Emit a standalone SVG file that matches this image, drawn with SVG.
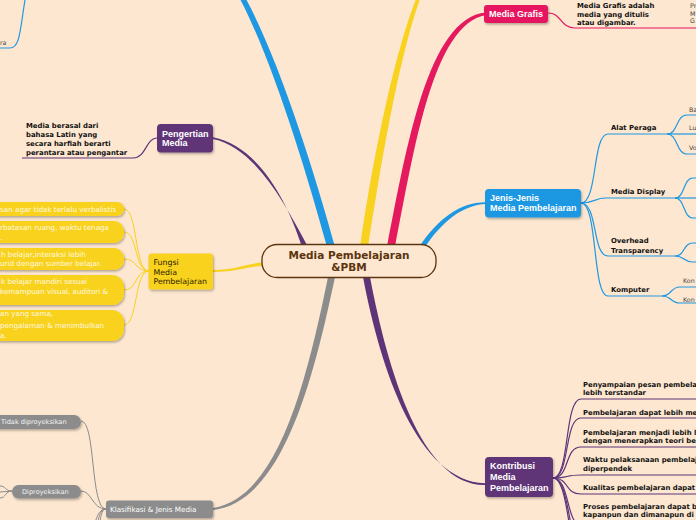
<svg xmlns="http://www.w3.org/2000/svg" width="696" height="520" viewBox="0 0 696 520">
<defs>
<filter id="sh" x="-20%" y="-20%" width="140%" height="160%"><feDropShadow dx="1" dy="1.5" stdDeviation="0.8" flood-color="#000" flood-opacity="0.3"/></filter>
<style>
.bg{fill:#FDE7D0}
.t{font-family:"DejaVu Sans",Verdana,sans-serif}
.lb{font-family:"Liberation Sans",Arial,sans-serif;font-weight:bold;font-size:9px;fill:#fff}
.cb{font-family:"DejaVu Sans",Verdana,sans-serif;font-weight:bold;font-size:6.9px;fill:#111}
.gs{font-family:"DejaVu Sans",Verdana,sans-serif;font-size:6.3px;fill:#444}
.yt{font-family:"DejaVu Sans",Verdana,sans-serif;font-size:7.2px;fill:#FFF9E2}
.gt{font-family:"DejaVu Sans",Verdana,sans-serif;font-size:6.6px;fill:#F4F4F4}
.lblue{fill:none;stroke:#1E98E2;stroke-width:1.2}
.lyel{fill:none;stroke:#F8D21E;stroke-width:1}
.lpur{fill:none;stroke:#5E3478;stroke-width:1.2}
.lpink{fill:none;stroke:#E5195E;stroke-width:1.2}
.lgray{fill:none;stroke:#8C8C8C;stroke-width:1}
</style>
</defs>
<rect class="bg" x="0" y="0" width="696" height="520"/>

<g id="connectors">
  <path d="M240,-1 C272,60 306,170 327,247 L335,247 C314,170 279,60 246,-1 Z" fill="#1E98E2"/>
  <path d="M360,247 C371,170 392,60 416,-1 L420,-1 C398,60 380,170 368,247 Z" fill="#F8D21E"/>
  <path d="M387,247 C406,150 428,17 486,12.5 L486,15 C433,24 414,150 395,247 Z" fill="#E5195E"/>
  <path d="M419,247 C438,219 460,202 486,202.3 L486,204 C462,205 442,222 425,247 Z" fill="#1E98E2"/>
  <path d="M302,247 C287,200 258,146 213,137.3 L213,139 C255,148 284,202 308,247 Z" fill="#5E3478"/>
  <path d="M262,262.5 C245,264 235,270 213,270 L213,272 C236,272 246,267 262,266 Z" fill="#F8D21E"/>
  <path d="M328,277 C307,380 278,498 213,508 L213,510 C282,502 313,382 335,277 Z" fill="#8C8C8C"/>
  <path d="M363,277 C381,372 418,481 485,483.3 L485,485 C422,486 388,372 370,277 Z" fill="#5E3478"/>

  <path class="lblue" d="M25,0 C20,30 20,48 10,48 L0,48"/>

  <path class="lpink" d="M548,13 C562,13 560,28 575,28 L696,28"/>

  <path class="lpur" d="M157,138 C146,138 146,158 133,158 L22,158"/>

  <path class="lyel" d="M149,271 C134,271 138,209 124,209"/>
  <path class="lyel" d="M149,271 C134,271 138,232 124,232"/>
  <path class="lyel" d="M149,271 C134,271 138,259 124,259"/>
  <path class="lyel" d="M149,271 C134,271 138,290 124,290"/>
  <path class="lyel" d="M149,271 C134,271 138,325 124,325"/>

  <path class="lblue" d="M581,203 C598,203 592,134 608,134 L667,134"/>
  <path class="lblue" d="M581,203 C595,203 594,198 606,198 L675,198"/>
  <path class="lblue" d="M581,203 C598,203 592,256 608,256 L675,256"/>
  <path class="lblue" d="M581,203 C598,203 592,296 608,296 L662,296"/>
  <path class="lblue" d="M667,134 C678,134 676,115 687,115 L696,115"/>
  <path class="lblue" d="M667,134 L696,134"/>
  <path class="lblue" d="M667,134 C678,134 676,154 687,154 L696,154"/>
  <path class="lblue" d="M675,198 C685,198 683,178 693,178 L696,178"/>
  <path class="lblue" d="M675,198 L696,198"/>
  <path class="lblue" d="M675,198 C685,198 683,218 693,218 L696,218"/>
  <path class="lblue" d="M675,256 C685,256 683,243 693,243 L696,243"/>
  <path class="lblue" d="M675,256 C685,256 683,262 693,262 L696,262"/>
  <path class="lblue" d="M662,296 C672,296 670,287 680,287 L696,287"/>
  <path class="lblue" d="M662,296 C672,296 670,303 680,303 L696,303"/>

  <path class="lpur" d="M553,478 C570,478 564,399 581,399 L696,399"/>
  <path class="lpur" d="M553,478 C570,478 564,418 581,418 L696,418"/>
  <path class="lpur" d="M553,478 C570,478 564,447 581,447 L696,447"/>
  <path class="lpur" d="M553,478 C570,478 564,475 581,475 L696,475"/>
  <path class="lpur" d="M553,478 C570,478 564,494 581,494 L696,494"/>
  <path class="lpur" d="M553,478 C570,478 566,525 581,525 L696,525"/>
  <path class="lpur" d="M553,478 C570,478 568,545 581,545"/>
  <path class="lpur" d="M553,478 C570,478 569,565 581,565"/>

  <path class="lgray" d="M106,509 C90,509 96,421 81,421"/>
  <path class="lgray" d="M106,509 C92,509 92,491 81,491"/>
  <path class="lgray" d="M106,509 C97,509 99,528 92,540"/>
  <path class="lgray" d="M106,509 C95,509 96,528 88,540"/>
  <path class="lgray" d="M106,509 C99,509 101,528 96,540"/>
  <path class="lgray" d="M12,491 C5,491 6,486 0,486"/>
  <path class="lgray" d="M12,491 L0,492"/>
  <path class="lgray" d="M12,491 C5,491 6,498 0,498"/>
</g>

<g id="center">
  <rect x="262" y="244.5" width="174" height="33" rx="15" fill="#FDE7D0" stroke="#5B3410" stroke-width="1.3"/>
  <text x="349" y="259" text-anchor="middle" class="t" font-size="10.5" font-weight="bold" fill="#5B3410">Media Pembelajaran</text>
  <text x="349" y="271" text-anchor="middle" class="t" font-size="10.5" font-weight="bold" fill="#5B3410">&amp;PBM</text>
</g>

<g id="top-left-child">
  <text x="0" y="44.5" class="gs" font-size="5px">ra</text>
</g>

<g id="media-grafis">
  <rect x="484" y="5" width="64" height="18" rx="3" fill="#E5195E" filter="url(#sh)"/>
  <text x="489" y="16.5" class="lb">Media Grafis</text>
</g>
<g id="media-grafis-def">
  <text x="577" y="8" class="cb">Media Grafis adalah</text>
  <text x="577" y="16.5" class="cb">media yang ditulis</text>
  <text x="577" y="25" class="cb">atau digambar.</text>
</g>
<g id="media-grafis-sub">
  <text x="690" y="7.5" class="gs" font-size="5.5px">Pr</text>
  <text x="690" y="15.5" class="gs" font-size="5.5px">M</text>
  <text x="690" y="23" class="gs" font-size="5.5px">G</text>
</g>

<g id="pengertian">
  <rect x="157" y="124" width="56" height="28.5" rx="4" fill="#5E3478" filter="url(#sh)"/>
  <text x="162" y="136.5" class="lb">Pengertian</text>
  <text x="162" y="146" class="lb">Media</text>
</g>
<g id="pengertian-def">
  <text x="26" y="128" class="cb">Media berasal dari</text>
  <text x="26" y="136.5" class="cb">bahasa Latin yang</text>
  <text x="26" y="145.5" class="cb">secara harfiah berarti</text>
  <text x="26" y="154.5" class="cb">perantara atau pengantar</text>
</g>

<g id="fungsi">
  <rect x="148.5" y="253.5" width="64.5" height="36" rx="3" fill="#F8D21E" filter="url(#sh)"/>
  <text x="153.5" y="265" font-family="'DejaVu Sans',Verdana,sans-serif" font-size="7.8" fill="#2A2000">Fungsi</text>
  <text x="153.5" y="274.5" font-family="'DejaVu Sans',Verdana,sans-serif" font-size="7.8" fill="#2A2000">Media</text>
  <text x="153.5" y="284" font-family="'DejaVu Sans',Verdana,sans-serif" font-size="7.8" fill="#2A2000">Pembelajaran</text>
</g>
<g id="fungsi-1">
  <rect x="-20" y="202" width="144" height="14" rx="7" fill="#F8D21E" filter="url(#sh)"/>
  <text x="0" y="211.5" class="yt">san agar tidak terlalu verbalistis</text>
</g>
<g id="fungsi-2">
  <rect x="-20" y="221" width="144" height="22" rx="10" fill="#F8D21E" filter="url(#sh)"/>
  <text x="0" y="230" class="yt">rbatasan ruang, waktu tenaga</text>
  <text x="0" y="239.5" class="yt">.</text>
</g>
<g id="fungsi-3">
  <rect x="-20" y="248" width="144" height="22" rx="10" fill="#F8D21E" filter="url(#sh)"/>
  <text x="1" y="256.5" class="yt">h belajar,interaksi lebih</text>
  <text x="0" y="266" class="yt">urid dengan sumber belajar.</text>
</g>
<g id="fungsi-4">
  <rect x="-20" y="275" width="144" height="30" rx="12" fill="#F8D21E" filter="url(#sh)"/>
  <text x="1" y="284" class="yt">k belajar mandiri sesuai</text>
  <text x="0" y="293.5" class="yt"> kemampuan visual, auditori &amp;</text>
</g>
<g id="fungsi-5">
  <rect x="-20" y="310" width="144" height="31" rx="12" fill="#F8D21E" filter="url(#sh)"/>
  <text x="0" y="316" class="yt">an yang sama,</text>
  <text x="0" y="328" class="yt">pengalaman &amp; menimbulkan</text>
  <text x="0" y="337.5" class="yt">a.</text>
</g>

<g id="jenis">
  <rect x="485" y="189" width="96" height="28.5" rx="4" fill="#1E98E2" filter="url(#sh)"/>
  <text x="490" y="200.5" class="lb">Jenis-Jenis</text>
  <text x="490" y="210.5" class="lb">Media Pembelajaran</text>
</g>
<g id="alat-peraga"><text x="611" y="130" class="cb">Alat Peraga</text></g>
<g id="media-display"><text x="611" y="194" class="cb">Media Display</text></g>
<g id="overhead"><text x="611" y="243" class="cb">Overhead</text><text x="611" y="252.5" class="cb">Transparency</text></g>
<g id="komputer"><text x="611" y="292" class="cb">Komputer</text></g>
<g id="ba"><text x="689" y="111.5" class="gs">Ba</text></g>
<g id="lu"><text x="689" y="130" class="gs">Lu</text></g>
<g id="vo"><text x="689" y="150" class="gs">Vo</text></g>
<g id="kon1"><text x="683" y="282.5" class="gs">Kon</text></g>
<g id="kon2"><text x="683" y="301.5" class="gs">Kon</text></g>

<g id="kontribusi">
  <rect x="485" y="457" width="68" height="40" rx="4" fill="#5E3478" filter="url(#sh)"/>
  <text x="490" y="469" class="lb" font-size="9.5px">Kontribusi</text>
  <text x="490" y="480" class="lb" font-size="9.5px">Media</text>
  <text x="490" y="491" class="lb" font-size="9.5px">Pembelajaran</text>
</g>
<g id="k1"><text x="583" y="386.5" class="cb">Penyampaian pesan pembela</text><text x="583" y="395" class="cb">lebih terstandar</text></g>
<g id="k2"><text x="583" y="414.5" class="cb">Pembelajaran dapat lebih me</text></g>
<g id="k3"><text x="583" y="434.5" class="cb">Pembelajaran menjadi lebih l</text><text x="583" y="443" class="cb">dengan menerapkan teori be</text></g>
<g id="k4"><text x="583" y="462" class="cb">Waktu pelaksanaan pembelaj</text><text x="583" y="470.5" class="cb">diperpendek</text></g>
<g id="k5"><text x="583" y="490" class="cb">Kualitas pembelajaran dapat</text></g>
<g id="k6"><text x="583" y="509" class="cb">Proses pembelajaran dapat b</text><text x="583" y="517" class="cb">kapanpun dan dimanapun di</text></g>

<g id="klasifikasi">
  <rect x="106" y="500.5" width="107" height="17.5" rx="3" fill="#8C8C8C" filter="url(#sh)"/>
  <text x="110" y="511.8" class="t" font-size="7.2" fill="#FFFFFF">Klasifikasi &amp; Jenis Media</text>
</g>
<g id="tidak-diproyeksikan">
  <rect x="-12" y="415" width="93" height="14" rx="7" fill="#8C8C8C" filter="url(#sh)"/>
  <text x="1" y="424.3" class="gt">Tidak diproyeksikan</text>
</g>
<g id="diproyeksikan">
  <rect x="12" y="485" width="69" height="13.5" rx="6.5" fill="#8C8C8C" filter="url(#sh)"/>
  <text x="22" y="494.3" class="gt">Diproyeksikan</text>
</g>
</svg>
